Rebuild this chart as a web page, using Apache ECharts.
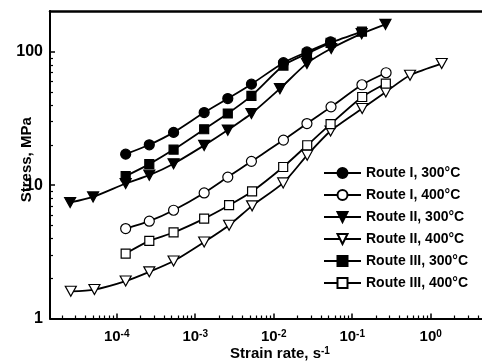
<!DOCTYPE html>
<html><head><meta charset="utf-8">
<script src="https://cdn.jsdelivr.net/npm/echarts@6/dist/echarts.min.js"></script>
<style>html,body{margin:0;padding:0;background:#fff}#c{width:482px;height:363px}</style>
</head><body><div id="c"></div>
<script>
// Strain rate (s^-1) and stress (MPa)
const rateI300  = [1.3e-4, 2.6e-4, 5.3e-4, 1.3e-3, 2.6e-3, 5.2e-3, 1.33e-2, 2.65e-2, 5.3e-2];
const stressI300 = [17.1, 20.1, 24.9, 35.1, 44.7, 57.3, 83, 100, 119];
const rateI400  = [1.3e-4, 2.6e-4, 5.3e-4, 1.3e-3, 2.6e-3, 5.2e-3, 1.33e-2, 2.65e-2, 5.37e-2, 0.133, 0.27];
const stressI400 = [4.73, 5.37, 6.49, 8.75, 11.5, 15.1, 21.8, 29.0, 38.7, 56.7, 69.8];
const rateII300 = [2.55e-5, 5.0e-5, 1.3e-4, 2.6e-4, 5.3e-4, 1.3e-3, 2.6e-3, 5.2e-3, 1.2e-2, 2.65e-2, 5.4e-2, 0.132, 0.265];
const stressII300 = [7.42, 8.17, 10.3, 11.9, 14.5, 19.9, 25.9, 34.5, 53, 82, 106, 137, 161];
const rateII400 = [2.6e-5, 5.2e-5, 1.3e-4, 2.6e-4, 5.3e-4, 1.3e-3, 2.7e-3, 5.3e-3, 1.32e-2, 2.67e-2, 5.3e-2, 0.134, 0.268, 0.545, 1.38];
const stressII400 = [1.60, 1.65, 1.91, 2.24, 2.70, 3.75, 5.01, 7.0, 10.4, 16.8, 25.5, 37.6, 50.1, 66.8, 81.8];
const rateIII300 = [1.3e-4, 2.6e-4, 5.3e-4, 1.3e-3, 2.6e-3, 5.2e-3, 1.33e-2, 2.65e-2, 5.3e-2, 0.133];
const stressIII300 = [11.7, 14.4, 18.5, 26.3, 34.5, 46.8, 79, 97, 117, 142];
const rateIII400 = [1.3e-4, 2.6e-4, 5.3e-4, 1.3e-3, 2.7e-3, 5.3e-3, 1.32e-2, 2.67e-2, 5.3e-2, 0.134, 0.268];
const stressIII400 = [3.07, 3.82, 4.42, 5.62, 7.08, 8.98, 13.7, 19.95, 28.7, 45.9, 57.9];

const seriesNames = ['Route I, 300°C', 'Route I, 400°C', 'Route II, 300°C', 'Route II, 400°C', 'Route III, 300°C', 'Route III, 400°C'];
const xDecades = [-5, -4, -3, -2, -1, 0, 1];   // tick label exponents
const yDecades = [1, 10, 100];                  // tick labels

const X_MIN = -4.85, X_MAX = 1.01, Y_MIN = 0, Y_MAX = 2.307;
const L = Math.log10;
const pairs = (xs, ys) => xs.map((x, i) => [L(x), L(ys[i])]);

const xMinor = [], yMinor = [];
for (let d = -5; d <= 1; d++) for (let k = 2; k <= 9; k++) xMinor.push(d + L(k));
for (let d = 0; d <= 2; d++) for (let k = 2; k <= 9; k++) { const v = d + L(k); if (v < Y_MAX - 0.01) yMinor.push(v); }

const FONT = 'Liberation Sans, Arial, sans-serif';
const black = '#000';

function mk(name, data, symbol, filled, size, rotate) {
  return {
    name, type: 'line', data, symbol, symbolSize: size, symbolRotate: rotate || 0,
    smooth: 0.25, xAxisIndex: 0, yAxisIndex: 0,
    lineStyle: {color: black, width: 1.8},
    itemStyle: {color: filled ? black : '#fff', borderColor: black, borderWidth: 1.2},
    emphasis: {disabled: true}, animation: false
  };
}

const chart = echarts.init(document.getElementById('c'), null, {renderer: 'canvas'});
const axisLineStyle = {show: true, onZero: false, lineStyle: {color: black, width: 2}};
chart.setOption({
  animation: false,
  backgroundColor: '#fff',
  grid: {left: 50, top: 11, right: -28, bottom: 44.5, containLabel: false, outerBoundsMode: 'none'},
  legend: {
    orient: 'vertical', left: 323, top: 166, itemWidth: 37, itemHeight: 12.5, itemGap: 8,
    padding: 0, data: seriesNames, selectedMode: false,
    textStyle: {fontFamily: FONT, fontWeight: 'bold', fontSize: 14, color: black}
  },
  xAxis: [
    {type: 'value', min: X_MIN, max: X_MAX, position: 'bottom',
     axisLine: axisLineStyle, splitLine: {show: false},
     axisTick: {show: true, inside: true, length: 5, customValues: xDecades, lineStyle: {color: black, width: 1.5}},
     axisLabel: {show: true, customValues: xDecades, margin: 11, hideOverlap: false,
       formatter: v => '{b|10}{s|' + Math.round(v) + '}',
       rich: {b: {fontFamily: FONT, fontWeight: 'bold', fontSize: 15, color: black},
              s: {fontFamily: FONT, fontWeight: 'bold', fontSize: 10, color: black, verticalAlign: 'top'}}},
     name: '{a|Strain rate, s}{s|-1}', nameLocation: 'middle', nameGap: 28, nameMoveOverlap: false,
     nameTextStyle: {rich: {a: {fontFamily: FONT, fontWeight: 'bold', fontSize: 15, color: black},
                            s: {fontFamily: FONT, fontWeight: 'bold', fontSize: 10, color: black, verticalAlign: 'top'}}}},
    {type: 'value', min: X_MIN, max: X_MAX, position: 'bottom',
     axisLine: {show: false, onZero: false}, splitLine: {show: false}, axisLabel: {show: false},
     axisTick: {show: true, inside: true, length: 3, customValues: xMinor, lineStyle: {color: black, width: 1.2}}},
    {type: 'value', min: X_MIN, max: X_MAX, position: 'top',
     axisLine: {show: true, onZero: false, lineStyle: {color: black, width: 2.5}}, splitLine: {show: false},
     axisLabel: {show: false}, axisTick: {show: false}}
  ],
  yAxis: [
    {type: 'value', min: Y_MIN, max: Y_MAX, position: 'left',
     axisLine: axisLineStyle, splitLine: {show: false},
     axisTick: {show: true, inside: true, length: 5, customValues: [0, 1, 2], lineStyle: {color: black, width: 1.5}},
     axisLabel: {show: true, customValues: [0, 1, 2], margin: 7,
       formatter: v => String(yDecades[Math.round(v)]),
       fontFamily: FONT, fontWeight: 'bold', fontSize: 16, color: black},
     name: 'Stress, MPa', nameLocation: 'middle', nameGap: 16, nameMoveOverlap: false,
     nameTextStyle: {fontFamily: FONT, fontWeight: 'bold', fontSize: 15, color: black, padding: [0, 0, 0, 10]}},
    {type: 'value', min: Y_MIN, max: Y_MAX, position: 'left',
     axisLine: {show: false, onZero: false}, splitLine: {show: false}, axisLabel: {show: false},
     axisTick: {show: true, inside: true, length: 3, customValues: yMinor, lineStyle: {color: black, width: 1.2}}}
  ],
  series: [
    mk(seriesNames[0], pairs(rateI300, stressI300), 'circle', true, 10),
    mk(seriesNames[1], pairs(rateI400, stressI400), 'circle', false, 10),
    mk(seriesNames[2], pairs(rateII300, stressII300), 'triangle', true, [11, 10], 180),
    mk(seriesNames[3], pairs(rateII400, stressII400), 'triangle', false, [11, 10], 180),
    mk(seriesNames[4], pairs(rateIII300, stressIII300), 'rect', true, 9),
    mk(seriesNames[5], pairs(rateIII400, stressIII400), 'rect', false, 9)
  ]
});
</script></body></html>
